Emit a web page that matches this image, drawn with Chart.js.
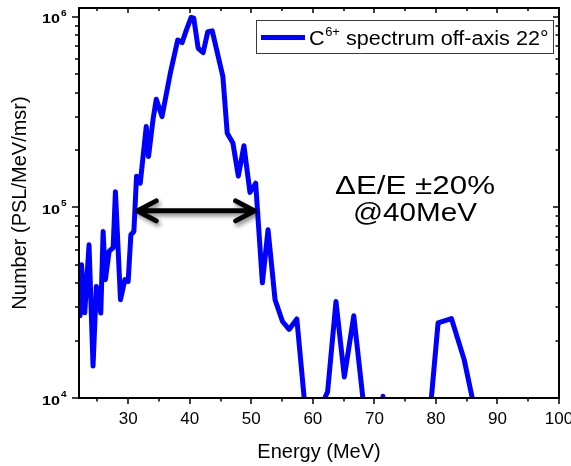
<!DOCTYPE html>
<html>
<head>
<meta charset="utf-8">
<script src="https://cdn.jsdelivr.net/npm/chart.js@4.4.1/dist/chart.umd.min.js"></script>
<style>
html,body{margin:0;padding:0;background:#fff;}
#wrap{width:571px;height:466px;}
</style>
</head>
<body>
<div id="wrap"><canvas id="c" width="571" height="466"></canvas></div>
<script>
// ---- data ----
const energy = [22.16,22.41,22.93,23.63,24.28,24.82,25.54,25.92,26.29,26.89,27.55,27.92,28.74,29.46,29.99,30.43,30.92,31.35,31.95,32.93,33.30,34.02,34.56,35.49,36.84,38.04,38.75,39.46,40.22,40.65,41.36,42.18,42.93,43.65,45.38,46.09,47.01,47.89,48.80,49.78,50.71,51.80,52.72,53.86,55.07,56.14,57.40,59.00,60.20,61.20,62.40,63.76,65.12,66.65,68.50,70.90,71.40,71.90,79.00,80.35,82.52,84.59,86.50,90.00,95.00,100.00];
const counts = [2.70e4,5.01e4,2.80e4,6.37e4,1.47e4,3.85e4,2.79e4,7.48e4,4.18e4,5.88e4,6.15e4,1.21e5,3.28e4,4.18e4,4.09e4,7.19e4,7.48e4,1.46e5,1.34e5,2.66e5,1.85e5,2.88e5,3.70e5,3.00e5,5.07e5,7.57e5,7.33e5,8.55e5,9.96e5,9.85e5,6.85e5,6.50e5,8.37e5,8.45e5,4.87e5,2.45e5,2.18e5,1.46e5,2.11e5,1.20e5,1.34e5,4.02e4,7.64e4,3.28e4,2.52e4,2.29e4,2.60e4,7.2e3,4.0e3,8.8e3,1.08e4,3.21e4,1.29e4,2.70e4,7.8e3,2.0e3,1.02e4,2.0e3,8.05e3,2.48e4,2.61e4,1.59e4,8.1e3,3.0e3,2.5e3,2.0e3];
const xMajorTicks = [30,40,50,60,70,80,90,100];
const xMinorTicks = [25,35,45,55,65,75,85,95];
const yMajorTicks = [1e4,1e5,1e6];
const yMajorExponents = ['4','5','6'];
const yMinorTicks = [2e4,3e4,4e4,5e4,6e4,7e4,8e4,9e4,2e5,3e5,4e5,5e5,6e5,7e5,8e5,9e5];
const seriesName = 'C';
const seriesSup = '6+';
const seriesRest = ' spectrum off-axis 22°';
const arrowEnergies = [31.3, 50.7];
const arrowLevel = 9.6e4;
const noteLines = ['ΔE/E ±20%', '@40MeV'];
const xTitle = 'Energy (MeV)';
const yTitle = 'Number (PSL/MeV/msr)';

const FONT = '"Liberation Sans", Arial, Helvetica, sans-serif';

function drawScaledText(ctx, text, x, yBase, font, targetW) {
  ctx.font = font;
  const w = ctx.measureText(text).width;
  const sx = targetW ? targetW / w : 1;
  ctx.save();
  ctx.translate(x, yBase);
  ctx.scale(sx, 1);
  ctx.fillText(text, 0, 0);
  ctx.restore();
  return w * sx;
}

const framePlugin = {
  id: 'frame',
  afterDatasetsDraw(chart) {
    const {ctx, chartArea: a, scales: {x, y}} = chart;
    ctx.save();
    ctx.strokeStyle = '#000';
    ctx.lineCap = 'butt';
    const seg = (x1, y1, x2, y2) => { ctx.beginPath(); ctx.moveTo(x1, y1); ctx.lineTo(x2, y2); ctx.stroke(); };
    ctx.lineWidth = 1.5;
    xMajorTicks.forEach(v => { const p = Math.round(x.getPixelForValue(v)); seg(p, a.bottom, p, a.bottom + 6); seg(p, a.top, p, a.top + 5); });
    xMinorTicks.forEach(v => { const p = Math.round(x.getPixelForValue(v)); seg(p, a.bottom, p, a.bottom + 3.5); seg(p, a.top, p, a.top + 3); });
    yMajorTicks.forEach(v => { const p = Math.round(y.getPixelForValue(v)); seg(a.left - 7, p, a.left, p); seg(a.right - 6, p, a.right, p); });
    yMinorTicks.forEach(v => { const p = Math.round(y.getPixelForValue(v)); seg(a.left - 4, p, a.left, p); seg(a.right - 3.5, p, a.right, p); });
    ctx.lineWidth = 2;
    ctx.strokeRect(a.left, a.top, a.right - a.left, a.bottom - a.top);

    // y tick labels 10^n
    ctx.fillStyle = '#000';
    ctx.textAlign = 'left';
    ctx.textBaseline = 'alphabetic';
    yMajorTicks.forEach((v, i) => {
      const p = y.getPixelForValue(v);
      drawScaledText(ctx, '10', a.left - 37, p + 6.5, 'bold 13px ' + FONT, 18);
      drawScaledText(ctx, yMajorExponents[i], a.left - 18, p - 1, 'bold 9px ' + FONT, 5.6);
    });

    // double arrow
    const xl = x.getPixelForValue(arrowEnergies[0]);
    const xr = x.getPixelForValue(arrowEnergies[1]);
    const ya = y.getPixelForValue(arrowLevel);
    ctx.save();
    ctx.shadowColor = 'rgba(0,0,0,0.45)';
    ctx.shadowBlur = 4;
    ctx.shadowOffsetX = 2;
    ctx.shadowOffsetY = 3;
    ctx.strokeStyle = '#000';
    ctx.lineWidth = 5;
    ctx.lineCap = 'round';
    ctx.lineJoin = 'round';
    ctx.beginPath();
    ctx.moveTo(xl + 2, ya); ctx.lineTo(xr - 2, ya);
    ctx.moveTo(xl + 20, ya - 10); ctx.lineTo(xl + 1, ya); ctx.lineTo(xl + 20, ya + 10);
    ctx.moveTo(xr - 20, ya - 10); ctx.lineTo(xr - 1, ya); ctx.lineTo(xr - 20, ya + 10);
    ctx.stroke();
    ctx.restore();

    // annotation text
    ctx.fillStyle = '#000';
    ctx.textAlign = 'left';
    const f1 = '26px ' + FONT;
    ctx.font = f1;
    const w1 = 160, w2 = 124;
    drawScaledText(ctx, noteLines[0], 415 - w1 / 2, 193.5, f1, w1);
    drawScaledText(ctx, noteLines[1], 415 - w2 / 2, 220.5, f1, w2);

    // legend
    ctx.fillStyle = '#fff';
    ctx.fillRect(256, 20, 297, 33);
    ctx.strokeStyle = '#3a3a3a';
    ctx.lineWidth = 1;
    ctx.strokeRect(256.5, 20.5, 297, 33);
    ctx.strokeStyle = '#0000ff';
    ctx.lineWidth = 5;
    seg(261, 37.5, 305, 37.5);
    ctx.fillStyle = '#000';
    const mainF = '20px ' + FONT, supF = '12px ' + FONT;
    ctx.font = mainF; const wc = ctx.measureText(seriesName).width; const wr = ctx.measureText(seriesRest).width;
    ctx.font = supF; const ws = ctx.measureText(seriesSup).width;
    const sx = (548 - 309) / (wc + ws + wr);
    ctx.save();
    ctx.translate(309, 0);
    ctx.scale(sx, 1);
    ctx.font = mainF; ctx.fillText(seriesName, 0, 45);
    ctx.font = supF; ctx.fillText(seriesSup, wc + 0.5, 36);
    ctx.font = mainF; ctx.fillText(seriesRest, wc + ws + 0.5, 45);
    ctx.restore();
    ctx.restore();
  }
};

new Chart(document.getElementById('c').getContext('2d'), {
  type: 'line',
  data: {
    datasets: [{
      label: seriesName + seriesSup + seriesRest,
      data: energy.map((e, i) => ({x: e, y: counts[i]})),
      borderColor: '#0000ff',
      backgroundColor: '#0000ff',
      borderWidth: 5,
      pointRadius: 0,
      tension: 0,
      fill: false,
      clip: 0,
      borderJoinStyle: 'round',
      borderCapStyle: 'round'
    }]
  },
  options: {
    responsive: false,
    animation: false,
    devicePixelRatio: 1,
    layout: {padding: {left: 0, right: 12, top: 8, bottom: 0}},
    plugins: {legend: {display: false}, tooltip: {enabled: false}},
    scales: {
      x: {
        type: 'linear', position: 'bottom', min: 22, max: 100,
        grid: {display: false, drawTicks: false},
        border: {display: false},
        afterBuildTicks: s => { s.ticks = xMajorTicks.map(v => ({value: v})); },
        afterFit: s => { s.height = 68; s.paddingLeft = 0; s.paddingRight = 0; },
        ticks: {padding: 11, color: '#000', font: {family: FONT, size: 17}, maxRotation: 0, autoSkip: false},
        title: {display: true, text: xTitle, color: '#000', font: {family: FONT, size: 20}, padding: {top: 0, bottom: 2}}
      },
      y: {
        type: 'logarithmic', position: 'left', min: 1e4, max: 1.114e6,
        grid: {display: false, drawTicks: false},
        border: {display: false},
        afterBuildTicks: s => { s.ticks = yMajorTicks.concat(yMinorTicks).sort((p, q) => p - q).map(v => ({value: v})); },
        afterFit: s => { s.width = 79; },
        ticks: {display: false},
        title: {display: true, text: yTitle, color: '#000', font: {family: FONT, size: 20}, padding: {top: 8, bottom: 0}}
      }
    }
  },
  plugins: [framePlugin]
});
</script>
</body>
</html>
